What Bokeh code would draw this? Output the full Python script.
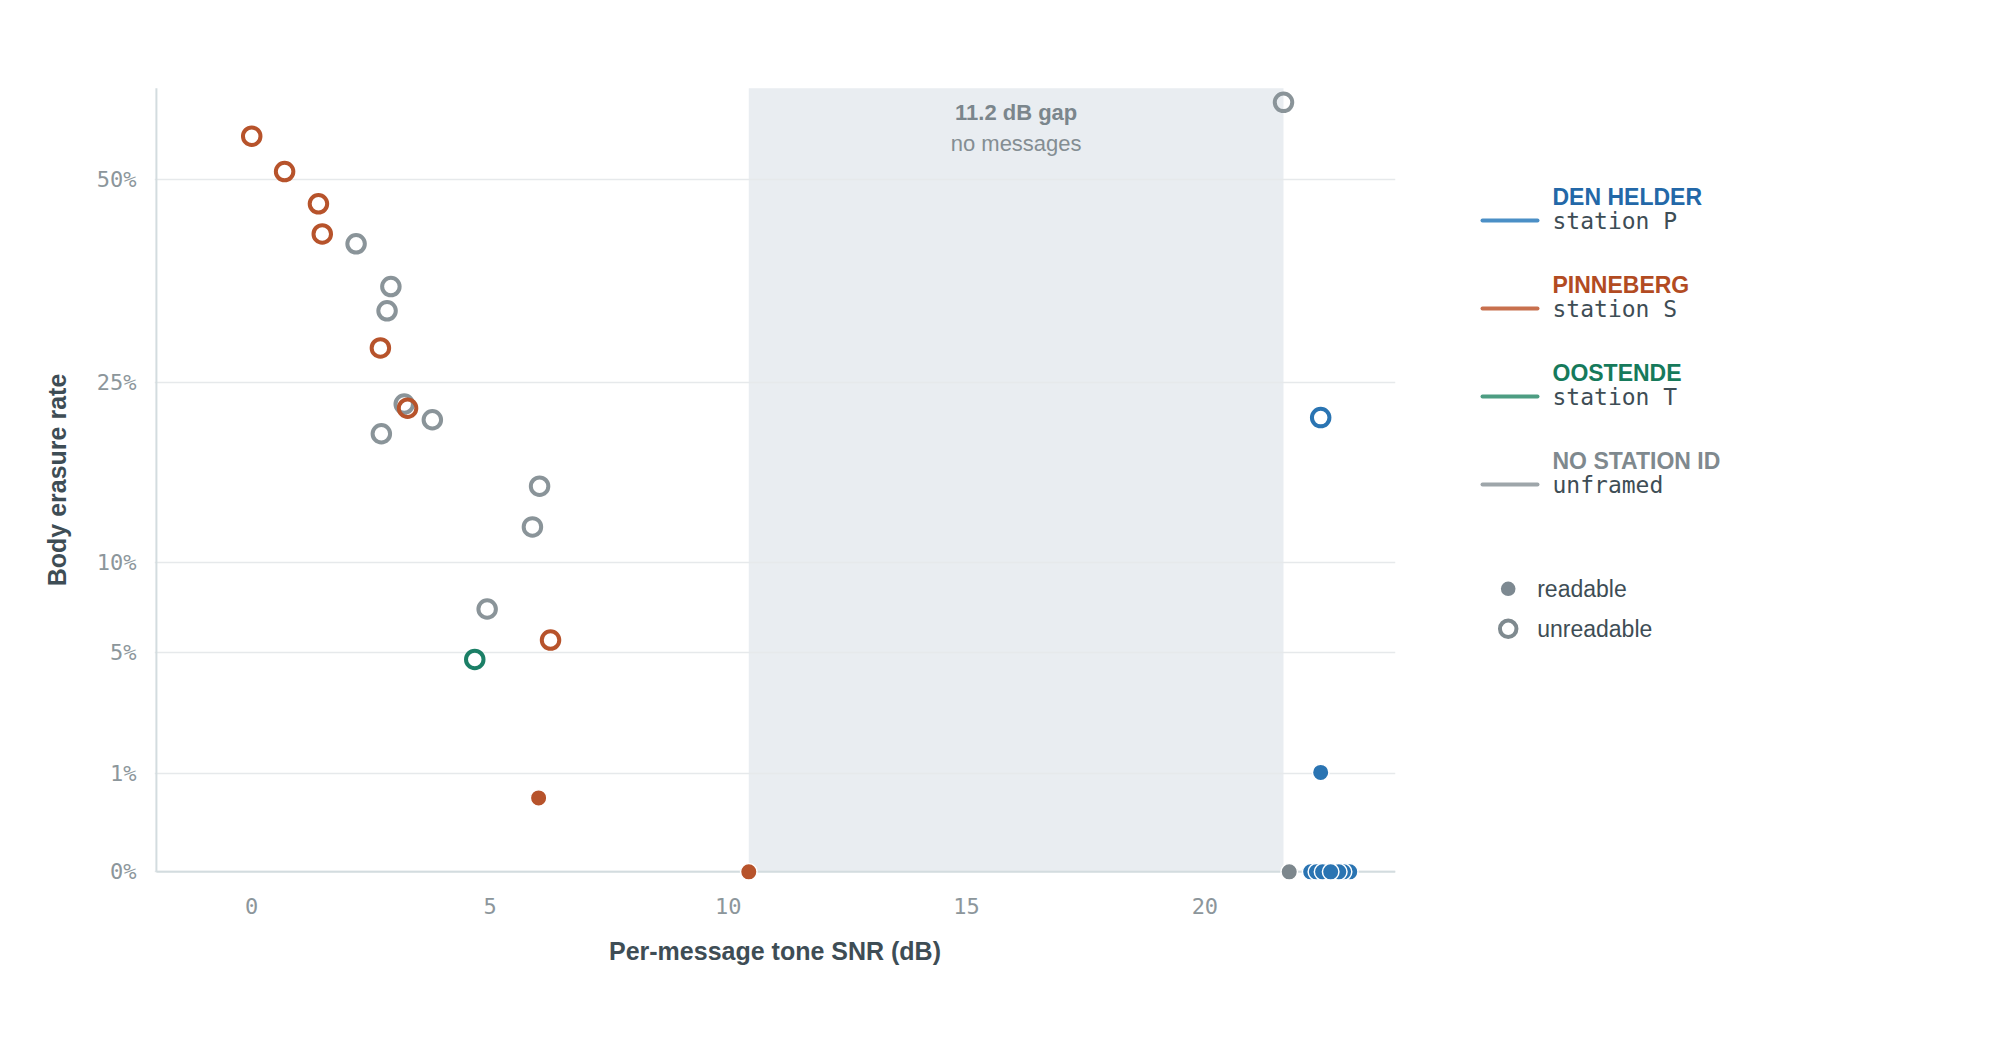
import numpy as np
from bokeh.plotting import figure
from bokeh.layouts import row
from bokeh.models import Range1d, FixedTicker, CustomJSTickFormatter
from bokeh.core.properties import value
from bokeh.embed import file_html
from bokeh.resources import INLINE

# ---------------- data ----------------
station_names = ["DEN HELDER", "PINNEBERG", "OOSTENDE", "NO STATION ID"]
station_subs = ["station P", "station S", "station T", "unframed"]

den_helder_snr = [22.43, 22.43, 22.22, 22.34, 22.47, 23.04, 22.91, 22.81, 22.64]
den_helder_rate = [21.5, 1.03, 0, 0, 0, 0, 0, 0, 0]
den_helder_readable = [False, True, True, True, True, True, True, True, True]

pinneberg_snr = [0.0, 0.69, 1.40, 1.48, 2.70, 3.27, 6.27, 6.02, 10.43]
pinneberg_rate = [56.4, 51.1, 46.5, 42.4, 28.6, 22.4, 5.6, 0.57, 0]
pinneberg_readable = [False, False, False, False, False, False, False, True, True]

oostende_snr = [4.68]
oostende_rate = [4.7]
oostende_readable = [False]

unframed_snr = [2.19, 2.92, 2.84, 3.20, 3.79, 2.72, 6.04, 5.89, 4.94, 21.65, 21.77]
unframed_rate = [41.1, 35.7, 32.8, 22.8, 21.3, 20.0, 15.5, 12.4, 7.2, 61.7, 0]
unframed_readable = [False] * 10 + [True]

y_tick_values = [0, 1, 5, 10, 25, 50]
x_tick_values = [0, 5, 10, 15, 20]

# ---------------- styles ----------------
marker_colors = {"DEN HELDER": "#2a74b2", "PINNEBERG": "#b7532b",
                 "OOSTENDE": "#1b7f66", "NO STATION ID": "#8a9499"}
filled_colors = {"DEN HELDER": "#2a74b2", "PINNEBERG": "#b7532b",
                 "OOSTENDE": "#1b7f66", "NO STATION ID": "#7d878d"}
legend_line_colors = ["#4b8fc6", "#c8704e", "#4d9d82", "#9ea6aa"]
legend_title_colors = ["#2368a8", "#b24b22", "#167a5b", "#7f898e"]
DARK = "#3e4d55"

series = {
    "NO STATION ID": (unframed_snr, unframed_rate, unframed_readable),
    "OOSTENDE": (oostende_snr, oostende_rate, oostende_readable),
    "PINNEBERG": (pinneberg_snr, pinneberg_rate, pinneberg_readable),
    "DEN HELDER": (den_helder_snr, den_helder_rate, den_helder_readable),
}

all_snr = np.array(den_helder_snr + pinneberg_snr + oostende_snr + unframed_snr)
split = 16.0
gap_lo = all_snr[all_snr < split].max()
gap_hi = all_snr[all_snr > split].min()
gap_mid = (gap_lo + gap_hi) / 2

# layout constants (page pixels)
B_TOP, B_BOTTOM, FRAME_H = 71, 132, 817
MAIN_W, LEG_W = 1448, 536
H = B_TOP + FRAME_H + B_BOTTOM
Y_PAD = 0.17

# ---------------- main plot ----------------
p = figure(width=MAIN_W, height=H,
           x_range=Range1d(-2.04, 24), y_range=Range1d(-Y_PAD, 8.0 + Y_PAD),
           output_backend="svg", toolbar_location=None,
           min_border_left=154, min_border_right=MAIN_W - 154 - 1241,
           min_border_top=B_TOP, min_border_bottom=B_BOTTOM)
p.outline_line_color = None
p.background_fill_color = "white"
p.xgrid.visible = False
ytick_pos = list(np.sqrt(np.array(y_tick_values, dtype=float)))
p.ygrid.ticker = FixedTicker(ticks=ytick_pos)
p.ygrid.grid_line_color = "#e6e9eb"
p.ygrid.grid_line_width = 1.5

p.yaxis.ticker = FixedTicker(ticks=ytick_pos)
p.yaxis.formatter = CustomJSTickFormatter(code="return Math.round(tick*tick) + '%';")
p.xaxis.ticker = FixedTicker(ticks=x_tick_values)

for ax in (p.xaxis, p.yaxis):
    ax.axis_line_color = None
    ax.major_tick_line_color = None
    ax.minor_tick_line_color = None
    ax.major_label_text_font = "DejaVu Sans Mono"
    ax.major_label_text_font_size = "22px"
    ax.major_label_text_color = "#8c969b"
    ax.axis_label_text_font = "Liberation Sans"
    ax.axis_label_text_font_style = "bold"
    ax.axis_label_text_font_size = "25px"
    ax.axis_label_text_color = DARK

p.xaxis.axis_label = "Per-message tone SNR (dB)"
p.yaxis.axis_label = "Body erasure rate"
p.xaxis.major_label_standoff = 3
p.xaxis.axis_label_standoff = 20
p.yaxis.major_label_standoff = 12
p.yaxis.axis_label_standoff = 23

# gap shading (below grid)
p.quad(left=gap_lo, right=gap_hi, bottom=0, top=8.0,
       fill_color="#e9edf1", line_color=None, level="image")

# axis lines
p.segment(x0=-2, y0=0, x1=24, y1=0, line_color="#d3dcdf", line_width=2)
p.segment(x0=-2, y0=0, x1=-2, y1=8.0, line_color="#d3dcdf", line_width=2)

# gap labels
p.text(x=[gap_mid], y=[7.752], text=[f"{gap_hi - gap_lo:.1f} dB gap"],
       text_font=value("Liberation Sans"), text_font_style="bold",
       text_font_size="22px", text_color="#7b868c",
       text_align="center", text_baseline="middle")
p.text(x=[gap_mid], y=[7.43], text=["no messages"],
       text_font=value("Liberation Sans"), text_font_size="22px",
       text_color="#848e93", text_align="center", text_baseline="middle")

# unreadable (open circles)
for name, (snr, rate, readable) in series.items():
    xs = [s for s, r in zip(snr, readable) if not r]
    ys = [np.sqrt(v) for v, r in zip(rate, readable) if not r]
    if xs:
        p.scatter(xs, ys, marker="circle", size=17.5, fill_color=None,
                  line_color=marker_colors[name], line_width=4)

# readable (filled dots)
for name in ["PINNEBERG", "NO STATION ID", "OOSTENDE", "DEN HELDER"]:
    snr, rate, readable = series[name]
    xs = [s for s, r in zip(snr, readable) if r]
    ys = [np.sqrt(v) for v, r in zip(rate, readable) if r]
    if xs:
        p.scatter(xs, ys, marker="circle", size=16.5,
                  fill_color=filled_colors[name], line_color="white",
                  line_width=1.5)

# ---------------- legend panel (coordinates = page pixels) ----------------
lg = figure(width=LEG_W, height=H,
            x_range=Range1d(MAIN_W, MAIN_W + LEG_W),
            y_range=Range1d(B_TOP + FRAME_H, B_TOP),
            output_backend="svg", toolbar_location=None,
            min_border_left=0, min_border_right=0,
            min_border_top=B_TOP, min_border_bottom=B_BOTTOM,
            x_axis_location=None, y_axis_location=None)
lg.grid.visible = False
lg.outline_line_color = None

entry_y = [220 + 88 * i for i in range(len(station_names))]
lg.segment(x0=1482, x1=1537, y0=entry_y, y1=entry_y, line_color=legend_line_colors,
           line_width=4, line_cap="round")
lg.text(x=[1552] * 4, y=[e - 23.5 for e in entry_y], text=station_names,
        text_color=legend_title_colors, text_font=value("Liberation Sans"),
        text_font_style="bold", text_font_size="23px", text_baseline="middle")
lg.text(x=[1552] * 4, y=entry_y, text=station_subs, text_color=DARK,
        text_font=value("DejaVu Sans Mono"), text_font_size="23px",
        text_baseline="middle")

lg.scatter([1507.7], [588.3], marker="circle", size=14.6, fill_color="#7d8991",
           line_color=None)
lg.scatter([1507.7], [628.3], marker="circle", size=16.5, fill_color=None,
           line_color="#7f8a8f", line_width=4)
lg.text(x=[1536.7, 1536.7], y=[588.3, 628.3], text=["readable", "unreadable"],
        text_color=DARK, text_font=value("Liberation Sans"),
        text_font_size="23px", text_baseline="middle")

layout = row(p, lg)
open("out.html", "w").write(file_html(layout, INLINE))
